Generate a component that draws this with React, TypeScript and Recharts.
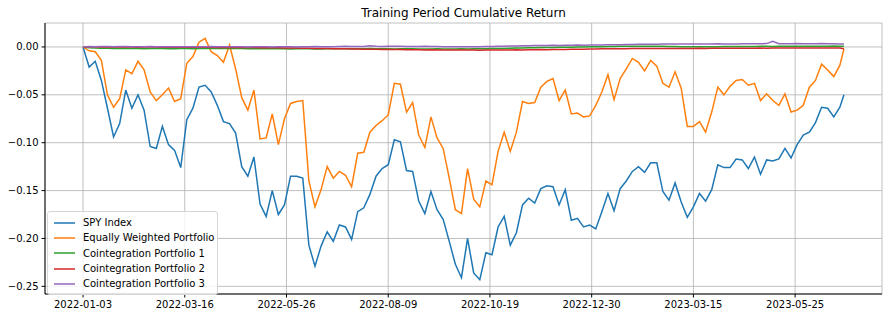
import { CartesianGrid, Legend, Line, LineChart, XAxis, YAxis } from "recharts";

// trading-day index of each sample (every 3rd day, last day is 374)
const SAMPLE_STEP = 3;
const LAST_DAY = 374;

const tickDays = [0, 50, 100, 150, 200, 250, 300, 350];
const tickDates = [
  "2022-01-03",
  "2022-03-16",
  "2022-05-26",
  "2022-08-09",
  "2022-10-19",
  "2022-12-30",
  "2023-03-15",
  "2023-05-25",
];
const yTicks = [-0.25, -0.2, -0.15, -0.1, -0.05, 0];

const spy = [
  0.0, -0.021, -0.015, -0.035, -0.064, -0.094, -0.08, -0.045, -0.064, -0.05,
  -0.066, -0.104, -0.106, -0.083, -0.102, -0.108, -0.126, -0.076, -0.064, -0.042,
  -0.04, -0.047, -0.061, -0.078, -0.08, -0.09, -0.125, -0.135, -0.115, -0.164,
  -0.177, -0.15, -0.175, -0.165, -0.135, -0.135, -0.137, -0.207, -0.229, -0.208,
  -0.193, -0.203, -0.186, -0.188, -0.201, -0.172, -0.168, -0.154, -0.135, -0.127,
  -0.123, -0.097, -0.099, -0.129, -0.13, -0.161, -0.174, -0.151, -0.17, -0.18,
  -0.203, -0.227, -0.241, -0.2, -0.236, -0.243, -0.215, -0.217, -0.188, -0.177,
  -0.207, -0.194, -0.165, -0.158, -0.163, -0.148, -0.145, -0.146, -0.165, -0.149,
  -0.181, -0.179, -0.188, -0.186, -0.19, -0.172, -0.153, -0.171, -0.148, -0.14,
  -0.13, -0.125, -0.131, -0.121, -0.121, -0.151, -0.16, -0.142, -0.162, -0.178,
  -0.167, -0.153, -0.161, -0.149, -0.123, -0.126, -0.126, -0.117, -0.118, -0.127,
  -0.115, -0.133, -0.118, -0.119, -0.117, -0.106, -0.116, -0.102, -0.092, -0.089,
  -0.079, -0.063, -0.064, -0.073, -0.063, -0.05,
];

const equalWeight = [
  0.0, -0.004, -0.005, -0.014, -0.05, -0.063, -0.054, -0.024, -0.028, -0.015,
  -0.024, -0.047, -0.056, -0.05, -0.043, -0.057, -0.054, -0.017, -0.01, 0.005,
  0.009, -0.005, -0.009, -0.016, 0.002, -0.023, -0.053, -0.066, -0.045, -0.096,
  -0.095, -0.07, -0.102, -0.075, -0.059, -0.057, -0.056, -0.14, -0.167, -0.149,
  -0.125, -0.137, -0.13, -0.134, -0.146, -0.111, -0.11, -0.089, -0.082, -0.077,
  -0.071, -0.038, -0.039, -0.068, -0.058, -0.092, -0.105, -0.073, -0.095, -0.106,
  -0.137, -0.17, -0.174, -0.127, -0.159, -0.167, -0.14, -0.144, -0.109, -0.089,
  -0.109, -0.089, -0.057, -0.059, -0.058, -0.042, -0.036, -0.033, -0.056, -0.045,
  -0.07, -0.069, -0.073, -0.072, -0.061, -0.047, -0.029, -0.055, -0.033, -0.023,
  -0.012, -0.016, -0.025, -0.014, -0.02, -0.038, -0.042, -0.026, -0.043, -0.083,
  -0.083, -0.078, -0.089, -0.068, -0.042, -0.05, -0.041, -0.035, -0.034, -0.04,
  -0.038, -0.056, -0.049, -0.056, -0.061, -0.049, -0.068, -0.066, -0.061, -0.042,
  -0.035, -0.018, -0.024, -0.031, -0.019, -0.002,
];

const coint1 = [
  0.0, -0.0008, -0.0012, -0.0014, -0.0013, -0.0015, -0.0016, -0.0014, -0.0015, -0.0017,
  -0.0018, -0.0016, -0.0015, -0.0017, -0.0019, -0.0018, -0.0016, -0.0017, -0.0018, -0.0017,
  -0.0016, -0.0015, -0.0016, -0.0017, -0.0016, -0.0015, -0.0016, -0.0018, -0.0019, -0.0018,
  -0.0017, -0.0018, -0.0019, -0.002, -0.0021, -0.002, -0.0019, -0.002, -0.0022, -0.0021,
  -0.002, -0.0019, -0.0018, -0.0019, -0.002, -0.0019, -0.0018, -0.0017, -0.0018, -0.0019,
  -0.002, -0.0021, -0.002, -0.0019, -0.002, -0.0021, -0.0022, -0.0021, -0.002, -0.0021,
  -0.0022, -0.0021, -0.002, -0.0021, -0.002, -0.0019, -0.0018, -0.0017, -0.0016, -0.0015,
  -0.0013, -0.0012, -0.001, -0.0009, -0.0008, -0.0007, -0.0006, -0.0005, -0.0004, -0.0003,
  -0.0002, -0.0001, 0.0, 0.0001, 0.0002, 0.0003, 0.0004, 0.0005, 0.0006, 0.0006,
  0.0007, 0.0007, 0.0008, 0.0007, 0.0007, 0.0006, 0.0005, 0.0004, 0.0003, 0.0002,
  0.0002, 0.0001, 0.0002, 0.0003, 0.0003, 0.0004, 0.0004, 0.0005, 0.0005, 0.0004,
  0.0005, 0.0006, 0.0006, 0.0005, 0.0006, 0.0007, 0.0007, 0.0006, 0.0007, 0.0008,
  0.0008, 0.0007, 0.0008, 0.0009, 0.0008, 0.0008,
];

const coint2 = [
  0.0, 0.0002, 0.0001, 0.0, -0.0001, 0.0, 0.0001, 0.0, -0.0001, -0.0002,
  -0.0001, 0.0, -0.0001, -0.0002, -0.0003, -0.0002, -0.0001, -0.0002, -0.0003, -0.0004,
  -0.0003, -0.0004, -0.0005, -0.0004, -0.0005, -0.0006, -0.0005, -0.0006, -0.0007, -0.0008,
  -0.0007, -0.0008, -0.0009, -0.001, -0.0012, -0.0011, -0.0013, -0.0014, -0.0016, -0.0015,
  -0.0017, -0.0018, -0.002, -0.0019, -0.0021, -0.0022, -0.0024, -0.0023, -0.0025, -0.0026,
  -0.0027, -0.0028, -0.0028, -0.0029, -0.003, -0.003, -0.0031, -0.003, -0.0031, -0.0032,
  -0.0031, -0.0032, -0.0033, -0.0032, -0.0033, -0.0034, -0.0033, -0.0032, -0.0033, -0.0032,
  -0.0031, -0.003, -0.0031, -0.003, -0.0029, -0.0028, -0.0029, -0.0028, -0.0027, -0.0026,
  -0.0025, -0.0024, -0.0023, -0.0022, -0.0021, -0.002, -0.0019, -0.0019, -0.0018, -0.0018,
  -0.0017, -0.0017, -0.0016, -0.0016, -0.0015, -0.0015, -0.0015, -0.0016, -0.0016, -0.0015,
  -0.0015, -0.0014, -0.0015, -0.0014, -0.0014, -0.0013, -0.0014, -0.0013, -0.0013, -0.0014,
  -0.0013, -0.0012, -0.0013, -0.0012, -0.0012, -0.0011, -0.0012, -0.0011, -0.0011, -0.001,
  -0.0011, -0.001, -0.001, -0.0011, -0.0012, -0.002,
];

const coint3 = [
  0.0, 0.0004, 0.0003, 0.0005, 0.0004, 0.0003, 0.0004, 0.0005, 0.0003, 0.0002,
  0.0003, 0.0004, 0.0003, 0.0002, 0.0001, 0.0002, 0.0003, 0.0002, 0.0001, 0.0002,
  0.0003, 0.0004, 0.0003, 0.0002, 0.0003, 0.0002, 0.0001, 0.0, 0.0001, 0.0002,
  0.0001, 0.0, 0.0001, 0.0002, 0.0001, 0.0, 0.0001, 0.0003, 0.0004, 0.0003,
  0.0002, 0.0003, 0.0005, 0.0006, 0.0005, 0.0004, 0.0005, 0.0013, 0.0006, 0.0005,
  0.0006, 0.0007, 0.0006, 0.0005, 0.0004, 0.0005, 0.0006, 0.0005, 0.0004, 0.0003,
  0.0002, 0.0001, 0.0002, 0.0003, 0.0002, 0.0003, 0.0004, 0.0005, 0.0006, 0.0008,
  0.0009, 0.001, 0.0012, 0.0013, 0.0014, 0.0015, 0.0016, 0.0017, 0.0016, 0.0017,
  0.0018, 0.0019, 0.0018, 0.0019, 0.002, 0.0021, 0.0022, 0.0023, 0.0024, 0.0025,
  0.0026, 0.0027, 0.0028, 0.0028, 0.0029, 0.003, 0.0031, 0.003, 0.0031, 0.0032,
  0.0031, 0.003, 0.0031, 0.0032, 0.0033, 0.0032, 0.0031, 0.0032, 0.0033, 0.0034,
  0.0033, 0.0034, 0.0035, 0.006, 0.0034, 0.0033, 0.0034, 0.0035, 0.0034, 0.0033,
  0.0034, 0.0035, 0.0034, 0.0033, 0.0032, 0.0031,
];

const series = [
  { key: "spy", name: "SPY Index", color: "#1f77b4" },
  { key: "ew", name: "Equally Weighted Portfolio", color: "#ff7f0e" },
  { key: "c1", name: "Cointegration Portfolio 1", color: "#2ca02c" },
  { key: "c2", name: "Cointegration Portfolio 2", color: "#d62728" },
  { key: "c3", name: "Cointegration Portfolio 3", color: "#9467bd" },
];

const data = spy.map((v, i) => ({
  day: Math.min(i * SAMPLE_STEP, LAST_DAY),
  spy: v,
  ew: equalWeight[i],
  c1: coint1[i],
  c2: coint2[i],
  c3: coint3[i],
}));

const FONT = '"DejaVu Sans", sans-serif';
const X_DOMAIN = [-18.7, 392.7];
const Y_DOMAIN = [-0.258, 0.025];

function fmtY(v: number): string {
  const s = Math.abs(v).toFixed(2);
  return v < -1e-9 ? "\u2212" + s : s;
}

function fmtX(v: number): string {
  const i = tickDays.indexOf(v);
  return i >= 0 ? tickDates[i] : "";
}

function LegendBox() {
  return (
    <div
      style={{
        background: "rgba(255,255,255,0.8)",
        border: "1px solid #d6d6d6",
        borderRadius: 3,
        padding: "3px 6px 3px 6px",
        fontFamily: FONT,
        fontSize: 10,
        color: "#000",
        boxSizing: "border-box",
        width: 171,
      }}
    >
      {series.map((s) => (
        <div key={s.key} style={{ display: "flex", alignItems: "center", height: 15.3 }}>
          <svg width={21} height={6} style={{ marginRight: 8, flex: "none" }}>
            <line x1={0} y1={3} x2={21} y2={3} stroke={s.color} strokeWidth={1.5} />
          </svg>
          <span style={{ whiteSpace: "nowrap" }}>{s.name}</span>
        </div>
      ))}
    </div>
  );
}

export default function App() {
  return (
    <div
      style={{
        position: "absolute",
        left: 0,
        top: 0,
        width: 889,
        height: 319,
        background: "#fff",
        fontFamily: FONT,
      }}
    >
      <div
        style={{
          position: "absolute",
          left: 45,
          width: 837,
          top: 6,
          textAlign: "center",
          fontSize: 12,
          color: "#000",
        }}
      >
        Training Period Cumulative Return
      </div>
      <LineChart
        width={889}
        height={319}
        data={data}
        margin={{ top: 23, right: 7, bottom: 0, left: 0 }}
      >
        <CartesianGrid stroke="#b0b0b0" strokeWidth={0.8} />
        <XAxis
          dataKey="day"
          type="number"
          domain={X_DOMAIN}
          allowDataOverflow
          ticks={tickDays}
          interval={0}
          tickFormatter={fmtX}
          height={25}
          tickSize={3.5}
          tickMargin={3}
          stroke="#000"
          tick={{ fill: "#000", fontSize: 10, fontFamily: FONT }}
        />
        <XAxis
          xAxisId="top"
          orientation="top"
          type="number"
          domain={X_DOMAIN}
          allowDataOverflow
          tick={false}
          tickLine={false}
          height={0}
          stroke="#000"
        />
        <YAxis
          type="number"
          domain={Y_DOMAIN}
          allowDataOverflow
          ticks={yTicks}
          interval={0}
          tickFormatter={fmtY}
          width={45}
          tickSize={3.5}
          tickMargin={3}
          stroke="#000"
          tick={{ fill: "#000", fontSize: 10, fontFamily: FONT }}
        />
        <YAxis
          yAxisId="right"
          orientation="right"
          type="number"
          domain={Y_DOMAIN}
          allowDataOverflow
          tick={false}
          tickLine={false}
          width={0}
          stroke="#000"
        />
        {series.map((s) => (
          <Line
            key={s.key}
            type="linear"
            dataKey={s.key}
            name={s.name}
            stroke={s.color}
            strokeWidth={1.5}
            dot={false}
            activeDot={false}
            isAnimationActive={false}
          />
        ))}
        <Legend
          layout="vertical"
          align="center"
          verticalAlign="middle"
          content={() => <LegendBox />}
          wrapperStyle={{ position: "absolute", left: 47, top: 211, width: 171 }}
        />
      </LineChart>
    </div>
  );
}
